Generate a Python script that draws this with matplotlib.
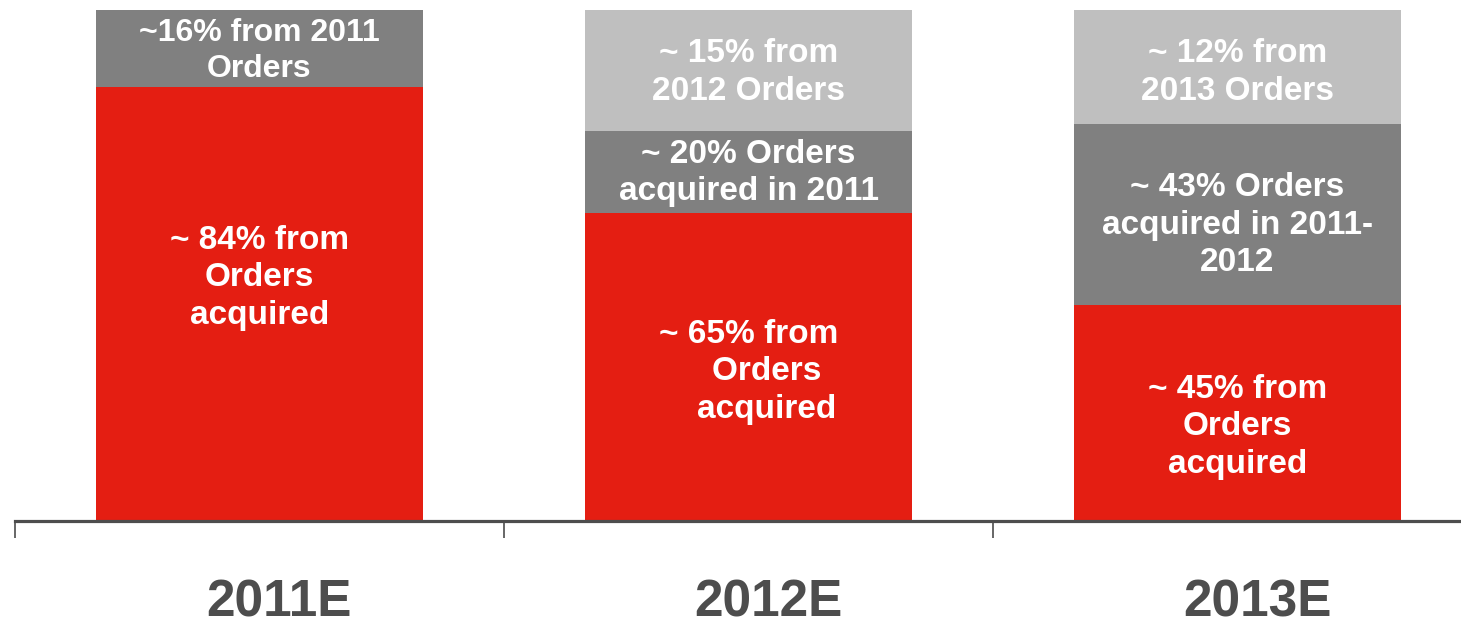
import matplotlib.pyplot as plt
import numpy as np

plt.rcParams['font.family'] = ['Liberation Sans', 'DejaVu Sans']

years = ["2011E", "2012E", "2013E"]

# share of orders (as drawn), bottom to top
acquired = [84.9, 60.3, 42.3]
mid = [0.0, 16.0, 35.4]
top = [15.1, 23.7, 22.3]

acquired_labels = ["~ 84% from\nOrders\nacquired",
                   "~ 65% from\n    Orders\n    acquired",
                   "~ 45% from\nOrders\nacquired"]
mid_labels = ["", "~ 20% Orders\nacquired in 2011",
              "~ 43% Orders\nacquired in 2011-\n2012"]
top_labels = ["~16% from 2011\nOrders", "~ 15% from\n2012 Orders",
              "~ 12% from\n2013 Orders"]

# vertical positions of the labels (percent)
acquired_y = [47.6, 29.2, 18.4]
mid_y = [0, 68.1, 57.9]
top_y = [92.0, 87.7, 87.7]

red = "#E41E12"
dark = "#808080"
light = "#BFBFBF"
axis_col = "#4D4D4D"

fig = plt.figure(figsize=(14.61, 6.26), dpi=100)
ax = fig.add_axes([15 / 1461, 105 / 626, 1 - 15 / 1461, 511 / 626])

x = np.arange(len(years))
w = 0.67
acquired = np.array(acquired)
mid = np.array(mid)
top = np.array(top)

ax.bar(x, acquired, w, color=red)
ax.bar(x, mid, w, bottom=acquired, color=dark)
top_colors = [dark, light, light]
ax.bar(x, top, w, bottom=acquired + mid, color=top_colors)

kw = dict(ha="center", va="center", color="white", fontsize=24,
          fontweight="bold", linespacing=1.28)
for i in range(len(years)):
    size = 23 if i == 0 else 24
    ax.text(x[i], acquired_y[i], acquired_labels[i], **kw)
    if mid_labels[i]:
        ax.text(x[i], mid_y[i], mid_labels[i], **kw)
    ax.text(x[i], top_y[i], top_labels[i], **{**kw, "fontsize": size})

ax.set_xlim(-0.5, 2.457)
ax.set_ylim(0, 100)
for s in ["top", "right", "left"]:
    ax.spines[s].set_visible(False)
ax.spines["bottom"].set_color(axis_col)
ax.spines["bottom"].set_linewidth(2.3)
ax.set_yticks([])
ax.set_xticks([-0.5, 0.5, 1.5])
ax.set_xticklabels([])
ax.tick_params(axis="x", length=12, width=1.2, color=axis_col)

for i in range(len(years)):
    ax.text(x[i] + 0.04, -18.6, years[i], ha="center", va="baseline",
            fontsize=37, fontweight="bold", color=axis_col)

fig.savefig("out.png", dpi=100)
